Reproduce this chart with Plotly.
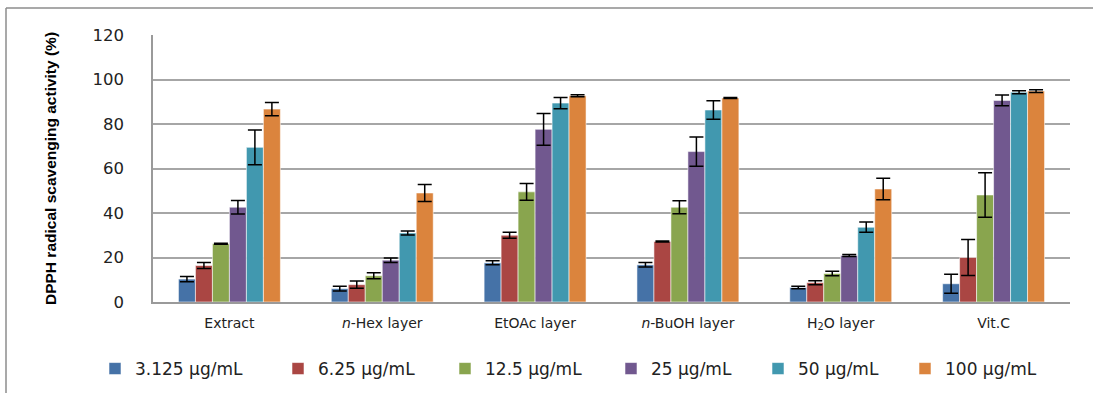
import plotly.graph_objects as go

categories = ["Extract", "<i>n</i>-Hex layer", "EtOAc layer", "<i>n</i>-BuOH layer", "H<sub>2</sub>O layer", "Vit.C"]
series_names = ["3.125 μg/mL", "6.25 μg/mL", "12.5 μg/mL", "25 μg/mL", "50 μg/mL", "100 μg/mL"]

v3125 = [10.3, 6.0, 17.6, 16.7, 6.5, 8.2]
v625 = [16.4, 7.8, 30.0, 27.2, 8.7, 20.0]
v125 = [26.2, 11.8, 49.5, 42.6, 12.8, 48.1]
v25 = [42.6, 18.8, 77.6, 67.6, 20.9, 90.6]
v50 = [69.5, 31.0, 89.4, 86.3, 33.6, 94.3]
v100 = [86.7, 49.0, 92.7, 91.7, 50.8, 94.8]

e3125 = [1.2, 1.1, 0.9, 1.0, 0.6, 4.3]
e625 = [1.3, 1.6, 1.3, 0.2, 0.9, 8.1]
e125 = [0.2, 1.3, 3.8, 2.9, 1.0, 10.0]
e25 = [3.0, 1.0, 7.1, 6.6, 0.5, 2.4]
e50 = [7.8, 0.9, 2.5, 4.2, 2.3, 0.7]
e100 = [3.0, 3.8, 0.5, 0.2, 4.8, 0.6]

colors = ["#4572A7", "#AA4643", "#89A54E", "#71588F", "#4198AF", "#DB843D"]
values = [v3125, v625, v125, v25, v50, v100]
errors = [e3125, e625, e125, e25, e50, e100]

y_ticks = [0, 20, 40, 60, 80, 100, 120]

L, R, T, B = 153, 23, 35, 91
W, H = 1093, 393
pw, ph = W - L - R, H - T - B

def px(X):
    return (X - L) / pw

def py(Y):
    return (H - B - Y) / ph

# left pixel of each legend swatch in the reference
legend_left = [110, 293, 460, 626, 773, 920]

fig = go.Figure()
legend_layouts = {}
for i, (name, vals, errs, col) in enumerate(zip(series_names, values, errors, colors)):
    lname = "legend" if i == 0 else f"legend{i + 1}"
    fig.add_trace(go.Bar(
        x=categories, y=vals, name=name, legend=lname,
        marker=dict(color=col, line=dict(color="rgba(255,255,255,0.55)", width=1)),
        error_y=dict(type="data", array=errs, visible=True, color="#000000", thickness=1.5, width=7),
    ))
    legend_layouts[lname] = dict(
        orientation="h", x=px(legend_left[i] - 15), xanchor="left", y=py(369), yanchor="middle",
        font=dict(size=17, family="DejaVu Sans", color="#222222"), bgcolor="rgba(0,0,0,0)",
    )

fig.update_layout(
    width=W, height=H,
    margin=dict(l=L, r=R, t=T, b=B, autoexpand=False),
    paper_bgcolor="white", plot_bgcolor="white",
    barmode="group", bargap=0.333, bargroupgap=0,
    font=dict(family="DejaVu Sans", color="#222222"),
    showlegend=True,
    xaxis=dict(showline=True, linecolor="#9a9a9a", linewidth=1.5, tickfont=dict(size=14),
               ticks="", ticklabelstandoff=7, fixedrange=True, automargin=False),
    yaxis=dict(range=[0, 120], tickvals=y_ticks, showline=True, linecolor="#9a9a9a", linewidth=1.5,
               showgrid=True, gridcolor="#a6a6a6", gridwidth=1.5, zeroline=False, automargin=False,
               tickfont=dict(size=16.5), ticks="", ticklabelstandoff=24),
    annotations=[dict(text="<b>DPPH radical scavenging activity (%)</b>", textangle=-90,
                      xref="paper", yref="paper", x=px(50), y=py(169), xanchor="center", yanchor="middle",
                      showarrow=False,
                      font=dict(size=15.5, family="Liberation Sans Narrow, Arial Narrow, Liberation Sans", color="#000000"))],
    shapes=[
        dict(type="line", xref="paper", yref="paper", x0=px(6), x1=px(1093), y0=py(8), y1=py(8),
             line=dict(color="#8c8c8c", width=1.5)),
        dict(type="line", xref="paper", yref="paper", x0=px(6), x1=px(6), y0=py(8), y1=py(393),
             line=dict(color="#8c8c8c", width=1.5)),
    ],
    **legend_layouts,
)

fig.write_html("out.html")
